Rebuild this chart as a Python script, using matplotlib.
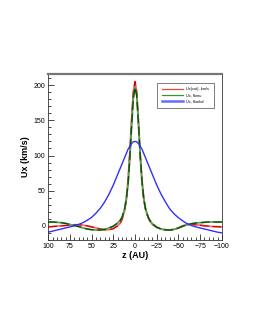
#!/usr/bin/env python3
import matplotlib

matplotlib.use("Agg")
import matplotlib.pyplot as plt
from matplotlib.ticker import MultipleLocator

# z positions (AU)
z = [100, 95, 90, 85, 80, 75, 70, 65, 60, 55, 50, 45, 40, 35, 30, 25, 20, 17, 15, 12,
     10, 8, 6, 4, 2, 0, -2, -4, -6, -8, -10, -12, -15, -17, -20, -25, -30, -35, -40,
     -45, -50, -55, -60, -65, -70, -75, -80, -85, -90, -95, -100]

ux_cut = [-1.5, -1, -0.5, 0, 0.5, 1, 1.5, 1.5, 1, 0, -1.5, -3, -4.5, -5.5, -5.5, -4, 0,
          4, 9, 22, 38, 65, 105, 150, 190, 205, 190, 145, 100, 62, 38, 24, 12, 7, 2,
          -2, -4.5, -6, -6, -5, -3, 0, 2, 2, 1.5, 1, 0, -0.5, -1, -1.2, -1.5]

ux_mu = [5.5, 5.5, 5, 4.5, 3.5, 2, 0.5, -1, -3, -4.5, -5.5, -6, -6, -5, -3, -0.5, 4,
         8, 12, 24, 38, 60, 95, 140, 180, 197, 185, 145, 100, 65, 40, 25, 13, 8, 3,
         -2, -4.5, -5.5, -6, -5, -3, -0.5, 1.5, 3, 4, 4.5, 5, 5.5, 5.5, 5.5, 5.5]

ux_mhd = [-9, -7.5, -6, -4.5, -3, -1.5, 0, 2, 4.5, 8, 12, 18, 25, 34, 45, 58, 73, 82,
          88, 97, 103, 109, 113, 117, 119.5, 120, 119.5, 117, 113, 109, 103, 97, 88, 82,
          73, 58, 45, 34, 24, 17, 11.5, 7, 3, 0.5, -1.5, -3, -4.5, -6, -7.5, -9, -10]

labels = ["Ux(cut), km/s", "Ux, fkmu", "Ux, fkmhd"]

plt.rcParams["font.family"] = ["Liberation Sans", "DejaVu Sans"]

fig = plt.figure(figsize=(2.55, 3.30), dpi=100)
ax = fig.add_axes([0.189, 0.273, 0.681, 0.503])

# light under-stroke plus darker dashed stroke, like the exported curves
ax.plot(z, ux_cut, color="#f07070", lw=1.3)
ax.plot(z, ux_cut, color="#d80000", lw=0.9, dashes=(7, 3))
ax.plot(z, ux_mu, color="#5f9f5f", lw=1.3)
ax.plot(z, ux_mu, color="#005000", lw=0.9, dashes=(7, 3))
ax.plot(z, ux_mhd, color="#3030ff", lw=1.0)

# legend proxies
h1, = ax.plot([], [], color="#ee4444", lw=0.9)
h2, = ax.plot([], [], color="#339933", lw=0.9)
h3, = ax.plot([], [], color="#6a6aff", lw=1.8)
leg = ax.legend([h1, h2, h3], labels, loc="upper right", fontsize=2.8,
                frameon=True, fancybox=False, handlelength=5.5,
                borderpad=1.2, labelspacing=0.5, bbox_to_anchor=(0.965, 0.96))
leg.get_frame().set_edgecolor("#444444")
leg.get_frame().set_linewidth(0.6)

ax.set_xlim(100, -100)
ax.set_ylim(-20, 216)
ax.xaxis.set_major_locator(MultipleLocator(25))
ax.xaxis.set_minor_locator(MultipleLocator(5))
ax.yaxis.set_major_locator(MultipleLocator(50))
ax.yaxis.set_minor_locator(MultipleLocator(10))
ax.tick_params(which="both", direction="in", top=False, right=False,
               labelsize=5, width=0.5, pad=2)
ax.tick_params(which="major", length=4)
ax.tick_params(which="minor", length=2)

for side in ("left", "right", "bottom"):
    ax.spines[side].set_linewidth(0.6)
    ax.spines[side].set_color("#333333")
ax.spines["top"].set_linewidth(1.6)
ax.spines["top"].set_color("#777777")

ax.set_xlabel("z (AU)", fontsize=6.5, fontweight="bold", labelpad=1)
ax.set_ylabel("Ux (km/s)", fontsize=6.5, fontweight="bold", labelpad=3)

fig.savefig("out.png", dpi=100)
plt.close(fig)
